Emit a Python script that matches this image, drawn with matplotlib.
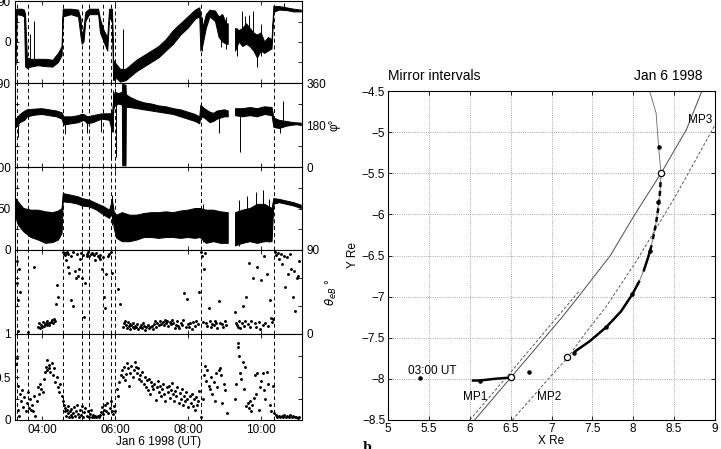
import numpy as np
import matplotlib
matplotlib.use('Agg')
import matplotlib.pyplot as plt

plt.rcParams['font.family'] = ['Liberation Sans', 'DejaVu Sans']
plt.rcParams['font.size'] = 8.5
plt.rcParams['axes.linewidth'] = 0.8
plt.rcParams['xtick.direction'] = 'in'
plt.rcParams['ytick.direction'] = 'in'

nan = np.nan

# ---- left: time series, time in hours UT on Jan 6 1998 ----
t_min, t_max = 3.26, 11.12
mirror_t = [3.32, 3.61, 4.58, 5.10, 5.30, 5.66, 5.88, 5.99, 8.35, 10.36]

# panel 1 (-90..90) envelope of the noisy trace
p1_t  = [3.26, 3.29, 3.32, 3.45, 3.52, 3.55, 3.60, 3.70, 3.90, 4.10, 4.30, 4.45, 4.55, 4.58, 4.80, 5.00, 5.07, 5.10,
         5.15, 5.20, 5.30, 5.55, 5.60, 5.70, 5.80, 5.85, 5.93, 5.96, 6.05, 6.15, 6.30, 6.45, 6.60, 6.80, 7.00, 7.20,
         7.40, 7.60, 7.80, 8.00, 8.20, 8.32, 8.35, 8.40, 8.50, 8.60, 8.75, 8.85, 8.95, 9.05, 9.10, 9.12, 9.28, 9.30,
         9.40, 9.50, 9.60, 9.70, 9.80, 9.90, 10.00, 10.10, 10.20, 10.30, 10.35, 10.50, 10.70, 10.90, 11.10]
p1_lo = [-45, -50, 60, 58, 55, -55, -58, -55, -52, -54, -55, -45, -30, 55, 60, 55, 10, -5,
         0, 45, 60, 60, 20, 0, -20, 50, 50, -85, -80, -88, -85, -75, -65, -55, -45, -35,
         -20, -5, 15, 30, 50, 55, -20, -10, 30, 55, 45, 10, 0, -5, -5, nan, nan, -20,
         0, -10, -5, -10, -20, -35, -20, -25, -20, -15, 65, 70, 69, 66, 66]
p1_hi = [-20, 70, 72, 72, 70, 60, -35, -38, -38, -38, -40, -25, -10, 72, 72, 70, 50, 10,
         30, 65, 72, 72, 50, 25, 10, 72, 72, -40, -50, -60, -60, -50, -40, -30, -20, -10,
         5, 25, 40, 55, 70, 75, 60, 30, 60, 70, 68, 55, 60, 40, 40, nan, nan, 30,
         25, 30, 40, 30, 20, 15, 20, 0, 10, 5, 78, 78, 75, 72, 70]
p1_spk_t  = [3.67, 3.77, 6.23, 8.37, 8.90, 9.04, 9.33, 9.48, 9.55, 9.67, 9.79, 9.88, 10.00, 10.62]
p1_spk_lo = [-50, -45, -80, -20, -10, -15, -30, 10, 0, 0, -10, -54, -30, 70]
p1_spk_hi = [18, 47, 28, 55, 62, 55, 30, 68, 58, 60, 68, 10, 40, 86]

# panel 2 (phi, 0..360)
p2_t  = [3.26, 3.30, 3.40, 3.53, 3.60, 3.80, 4.00, 4.20, 4.40, 4.55, 4.60, 4.80, 5.00, 5.08, 5.15, 5.25, 5.40, 5.55,
         5.65, 5.85, 5.93, 5.97, 6.00, 6.10, 6.20, 6.21, 6.30, 6.31, 6.40, 6.60, 6.80, 7.00, 7.20, 7.40, 7.60, 7.80,
         8.00, 8.20, 8.32, 8.35, 8.45, 8.60, 8.70, 8.80, 9.00, 9.10, 9.12, 9.28, 9.30, 9.50, 9.70, 9.90, 10.10, 10.30,
         10.35, 10.50, 10.70, 10.90, 11.10]
p2_lo = [165, 170, 190, 200, 215, 222, 225, 220, 215, 205, 180, 185, 190, 195, 200, 185, 190, 200,
         205, 200, 150, 250, 260, 270, 265, 5, 5, 255, 255, 250, 245, 240, 235, 230, 225, 215,
         205, 195, 185, 215, 210, 190, 195, 205, 215, 215, nan, nan, 220, 215, 220, 215, 225, 220,
         170, 165, 175, 180, 182]
p2_hi = [215, 205, 225, 240, 245, 248, 250, 245, 240, 232, 215, 215, 220, 225, 225, 215, 220, 225,
         228, 228, 230, 300, 320, 315, 320, 355, 350, 310, 300, 285, 275, 270, 262, 258, 250, 245,
         235, 225, 215, 265, 250, 235, 230, 240, 245, 240, nan, nan, 250, 250, 255, 250, 258, 255,
         210, 200, 195, 190, 188]
p2_spk_t  = [3.33, 4.62, 5.22, 5.62, 5.90, 5.95, 6.02, 8.85, 9.42, 10.52, 10.60]
p2_spk_lo = [130, 140, 144, 150, 30, 150, 45, 145, 65, 145, 185]
p2_spk_hi = [200, 200, 200, 210, 200, 330, 300, 210, 250, 190, 281]

# panel 3 (0..100)
p3_t  = [3.28, 3.35, 3.50, 3.70, 3.90, 4.10, 4.30, 4.45, 4.55, 4.58, 4.80, 5.00, 5.10, 5.30, 5.50, 5.70, 5.85, 5.93,
         5.98, 6.05, 6.20, 6.40, 6.60, 6.80, 7.00, 7.20, 7.40, 7.60, 7.80, 8.00, 8.20, 8.33, 8.50, 8.70, 8.90, 9.10,
         9.12, 9.28, 9.30, 9.50, 9.70, 9.90, 10.10, 10.30, 10.35, 10.50, 10.70, 10.90, 11.10]
p3_lo = [40, 30, 22, 15, 12, 8, 9, 12, 20, 58, 57, 55, 53, 52, 48, 42, 38, 45,
         25, 14, 10, 10, 12, 15, 15, 14, 15, 15, 14, 15, 14, 15, 8, 10, 8, 8,
         nan, nan, 5, 8, 10, 8, 10, 10, 55, 57, 55, 53, 50]
p3_hi = [62, 58, 50, 48, 48, 46, 45, 47, 50, 68, 66, 64, 62, 60, 56, 52, 48, 60,
         45, 42, 45, 42, 42, 44, 45, 45, 46, 45, 47, 48, 50, 50, 48, 48, 46, 45,
         nan, nan, 45, 48, 50, 55, 55, 50, 62, 61, 59, 57, 54]
p3_spk_t  = [5.92, 8.40, 9.40, 9.62, 9.85, 10.05, 10.22]
p3_spk_lo = [30, 10, 5, 10, 30, 30, 10]
p3_spk_hi = [66, 55, 60, 65, 70, 72, 62]

# panel 4: theta_eB (deg)
p4_t = [3.31, 3.32, 3.33, 3.35, 3.38, 3.40, 3.61, 3.79,
        3.88, 3.92, 3.95, 3.98, 4.01, 4.04, 4.06, 4.08, 4.10, 4.13, 4.15, 4.18, 4.20, 4.24, 4.27, 4.30, 4.33, 4.36, 4.38, 4.41, 4.45,
        4.58, 4.60, 4.62, 4.64, 4.66, 4.68, 4.70, 4.72, 4.75, 4.78, 4.80, 4.84, 4.86, 4.90, 4.93, 4.96, 4.99, 5.02, 5.04, 5.06,
        5.10, 5.12, 5.15, 5.18, 5.22, 5.24, 5.27, 5.30, 5.33, 5.36, 5.40, 5.43, 5.46, 5.48, 5.52, 5.55, 5.58, 5.60, 5.63, 5.66,
        5.70, 5.73, 5.76, 5.80, 5.84, 5.88, 5.92, 6.08, 6.13,
        6.22, 6.25, 6.28, 6.30, 6.32, 6.35, 6.38, 6.40, 6.42, 6.45, 6.48, 6.50, 6.53, 6.56, 6.58, 6.61, 6.64, 6.67, 6.70, 6.73,
        6.76, 6.80, 6.83, 6.86, 6.90, 6.93, 6.96, 7.00, 7.03, 7.07, 7.10, 7.13, 7.16, 7.20, 7.23, 7.26, 7.30, 7.33, 7.36, 7.40,
        7.43, 7.46, 7.50, 7.53, 7.56, 7.60, 7.63, 7.66, 7.70, 7.73, 7.76, 7.80, 7.84, 7.87, 7.90, 7.93, 7.96, 8.00, 8.03, 8.06,
        8.10, 8.14, 8.18, 8.22, 8.26, 8.30,
        8.36, 8.38, 8.40, 8.43, 8.46, 8.50, 8.53, 8.56, 8.60, 8.63, 8.66, 8.70, 8.73, 8.76, 8.80, 8.84, 8.88, 8.92, 8.96, 9.00, 9.04,
        9.28, 9.30, 9.33, 9.36, 9.40, 9.43, 9.47, 9.50, 9.52, 9.56, 9.60, 9.64, 9.68, 9.70, 9.73, 9.78, 9.82, 9.86, 9.90, 9.93,
        9.97, 10.00, 10.04, 10.08, 10.12, 10.16, 10.20, 10.24, 10.28, 10.31, 10.33,
        10.38, 10.42, 10.46, 10.50, 10.54, 10.58, 10.62, 10.66, 10.70, 10.74, 10.78, 10.82, 10.86, 10.90, 10.94, 10.98, 11.02, 11.05]
p4_v = [78, 55, 36, 3, 70, 45, 2, 72,
        8, 12, 6, 10, 8, 13, 9, 11, 12, 10, 14, 12, 10, 13, 15, 12, 16, 14, 32, 52, 40,
        88, 86, 87, 85, 79, 88, 72, 86, 65, 84, 36, 88, 30, 67, 60, 86, 62, 70, 80, 87,
        60, 85, 18, 55, 84, 86, 88, 84, 86, 87, 86, 85, 79, 87, 84, 82, 80, 85, 70, 82,
        40, 28, 64, 84, 86, 88, 65, 48, 32,
        8, 12, 14, 10, 6, 13, 9, 11, 5, 10, 8, 12, 6, 9, 7, 11, 5, 8, 10, 6,
        12, 9, 4, 8, 10, 6, 7, 9, 5, 11, 14, 8, 12, 10, 14, 11, 13, 10, 15, 12,
        14, 9, 13, 11, 15, 12, 6, 10, 14, 9, 6, 12, 10, 15, 44, 7, 38, 11, 8, 12,
        5, 13, 9, 14, 11, 45,
        88, 84, 13, 70, 87, 12, 9, 28, 14, 7, 11, 10, 14, 12, 6, 35, 12, 11, 7, 14, 10,
        24, 12, 10, 8, 14, 6, 12, 30, 9, 14, 40, 11, 76, 7, 14, 60, 12, 8, 72, 13,
        5, 58, 10, 84, 12, 64, 9, 36, 17, 13, 16,
        88, 85, 87, 80, 86, 75, 84, 50, 82, 64, 86, 70, 40, 67, 25, 60, 62, 78]

# panel 5 (0..1)
p5_t = [3.29, 3.31, 3.33, 3.35, 3.37, 3.40, 3.43, 3.46, 3.49, 3.52, 3.55, 3.58, 3.61, 3.64, 3.67, 3.70, 3.73, 3.76, 3.79,
        3.82, 3.85, 3.88, 3.92, 3.95, 3.98, 4.02, 4.05, 4.08, 4.10, 4.13, 4.15, 4.18, 4.20, 4.23, 4.26, 4.30, 4.33, 4.36,
        4.40, 4.43, 4.47, 4.50, 4.55,
        4.58, 4.60, 4.62, 4.64, 4.66, 4.68, 4.70, 4.72, 4.74, 4.76, 4.78, 4.80, 4.83, 4.86, 4.88, 4.90, 4.93, 4.96, 4.98,
        5.01, 5.04, 5.07, 5.10, 5.13, 5.16, 5.19, 5.22, 5.25, 5.28, 5.31, 5.34, 5.37, 5.40, 5.43, 5.46, 5.49, 5.52, 5.55,
        5.58, 5.61, 5.64, 5.67, 5.70, 5.73, 5.76, 5.79, 5.82, 5.85, 5.88, 5.91, 5.94, 5.97, 6.00,
        6.05, 6.08, 6.12, 6.15, 6.18, 6.21, 6.24, 6.27, 6.30, 6.33, 6.36, 6.39, 6.42, 6.45, 6.48, 6.51, 6.54, 6.57, 6.60,
        6.63, 6.66, 6.69, 6.72, 6.75, 6.78, 6.81, 6.84, 6.87, 6.90, 6.93, 6.96, 6.99, 7.02, 7.05, 7.08, 7.11, 7.14, 7.17,
        7.20, 7.23, 7.26, 7.29, 7.32, 7.35, 7.38, 7.41, 7.44, 7.47, 7.50, 7.53, 7.56, 7.59, 7.62, 7.65, 7.68, 7.71, 7.74,
        7.77, 7.80, 7.83, 7.86, 7.89, 7.92, 7.95, 7.98, 8.01, 8.04, 8.07, 8.10, 8.13, 8.16, 8.19, 8.22, 8.25, 8.28, 8.31,
        8.36, 8.40, 8.44, 8.47, 8.50, 8.53, 8.56, 8.60, 8.63, 8.66, 8.70, 8.73, 8.76, 8.80, 8.84, 8.87, 8.90, 8.94, 8.98,
        9.02, 9.06,
        9.28, 9.32, 9.36, 9.38, 9.40, 9.43, 9.46, 9.50, 9.53, 9.56, 9.60, 9.63, 9.66, 9.70, 9.73, 9.76, 9.80, 9.83, 9.86,
        9.90, 9.93, 9.96, 10.00, 10.04, 10.08, 10.12, 10.16, 10.20, 10.24, 10.28, 10.32,
        10.36, 10.40, 10.44, 10.48, 10.52, 10.56, 10.60, 10.64, 10.68, 10.72, 10.76, 10.80, 10.84, 10.88, 10.92, 10.96,
        11.00, 11.04]
p5_v = [0.65, 0.72, 0.40, 0.12, 0.05, 0.30, 0.22, 0.35, 0.15, 0.27, 0.10, 0.20, 0.32, 0.14, 0.25, 0.12, 0.18, 0.10, 0.28,
        0.05, 0.22, 0.38, 0.30, 0.42, 0.36, 0.33, 0.48, 0.56, 0.62, 0.58, 0.70, 0.64, 0.60, 0.56, 0.66, 0.52, 0.60, 0.44,
        0.50, 0.38, 0.32, 0.42, 0.28,
        0.22, 0.18, 0.14, 0.10, 0.05, 0.12, 0.08, 0.16, 0.04, 0.10, 0.06, 0.13, 0.03, 0.08, 0.15, 0.05, 0.10, 0.18, 0.07,
        0.03, 0.12, 0.06, 0.16, 0.04, 0.09, 0.14, 0.05, 0.10, 0.03, 0.07, 0.12, 0.04, 0.06, 0.04, 0.05, 0.03, 0.05, 0.04,
        0.06, 0.09, 0.15, 0.07, 0.12, 0.18, 0.10, 0.20, 0.08, 0.14, 0.22, 0.11, 0.07, 0.16, 0.10,
        0.36, 0.28, 0.44, 0.52, 0.58, 0.50, 0.62, 0.46, 0.54, 0.66, 0.60, 0.40, 0.55, 0.63, 0.50, 0.58, 0.68, 0.62, 0.55,
        0.60, 0.48, 0.52, 0.45, 0.56, 0.42, 0.50, 0.38, 0.46, 0.35, 0.48, 0.30, 0.44, 0.40, 0.36, 0.42, 0.23, 0.38, 0.45,
        0.32, 0.40, 0.28, 0.36, 0.42, 0.30, 0.22, 0.38, 0.33, 0.40, 0.26, 0.35, 0.43, 0.30, 0.22, 0.34, 0.28, 0.38, 0.20,
        0.31, 0.25, 0.36, 0.18, 0.28, 0.22, 0.33, 0.25, 0.15, 0.28, 0.20, 0.30, 0.16, 0.24, 0.12, 0.27, 0.18, 0.22, 0.34,
        0.04, 0.25, 0.52, 0.63, 0.45, 0.58, 0.40, 0.36, 0.50, 0.30, 0.44, 0.22, 0.55, 0.38, 0.58, 0.60, 0.52, 0.20, 0.42,
        0.35, 0.08,
        0.24, 0.42, 0.90, 0.85, 0.75, 0.55, 0.48, 0.68, 0.36, 0.62, 0.16, 0.20, 0.14, 0.22, 0.10, 0.18, 0.26, 0.52, 0.30,
        0.55, 0.12, 0.38, 0.45, 0.55, 0.35, 0.25, 0.56, 0.42, 0.18, 0.10, 0.40,
        0.08, 0.06, 0.04, 0.05, 0.03, 0.05, 0.04, 0.06, 0.03, 0.05, 0.04, 0.06, 0.03, 0.05, 0.04, 0.03,
        0.02, 0.03]

# ---- right: orbit and magnetopause models (X, Y in Re) ----
mp1_x = [6.00, 6.50, 7.00, 7.35]
mp1_y = [-8.50, -7.92, -7.33, -6.92]
mp2_x = [6.52, 6.98, 7.19, 7.41, 7.67, 8.05, 8.51, 8.98, 9.10]
mp2_y = [-8.50, -7.98, -7.75, -7.45, -7.12, -6.55, -5.79, -4.95, -4.70]
mp3_x = [6.06, 6.60, 7.13, 7.33, 7.72, 8.02, 8.34, 8.65, 8.84]
mp3_y = [-8.50, -7.87, -7.25, -7.00, -6.50, -6.00, -5.50, -4.97, -4.50]

orbit_x = [7.29, 7.47, 7.67, 7.85, 7.99, 8.07, 8.13, 8.18, 8.22, 8.28, 8.33, 8.34, 8.31, 8.28, 8.20, 8.10]
orbit_y = [-7.665, -7.54, -7.37, -7.18, -6.97, -6.82, -6.68, -6.53, -6.39, -6.10, -5.70, -5.50, -5.18, -4.77, -4.50, -4.30]
segA_x, segA_y = [6.04, 6.12, 6.30, 6.48], [-8.02, -8.02, -8.00, -7.985]
segB_x, segB_y = [7.29, 7.47, 7.67, 7.85, 7.99, 8.07], [-7.665, -7.54, -7.37, -7.18, -6.97, -6.82]
segC_x, segC_y = [8.13, 8.18, 8.22], [-6.68, -6.53, -6.39]
segD_x, segD_y = [8.24, 8.28, 8.31, 8.33, 8.335], [-6.30, -6.10, -5.90, -5.70, -5.56]
hour_x = [5.39, 6.12, 6.73, 7.27, 7.67, 7.99, 8.21, 8.30, 8.31]
hour_y = [-7.99, -8.02, -7.92, -7.69, -7.37, -6.97, -6.44, -5.85, -5.18]
mp_cross_x = [6.50, 7.19, 8.34]
mp_cross_y = [-7.98, -7.74, -5.50]

W, H = 721, 449
fig = plt.figure(figsize=(W / 100, H / 100), dpi=100)


def px_axes(l, t, r, b):
    return fig.add_axes([l / W, 1 - b / H, (r - l) / W, (b - t) / H])


edges = [1, 83, 167, 250, 334, 420]
axs = [px_axes(15, edges[i], 302, edges[i + 1]) for i in range(5)]

bands = [(p1_t, p1_lo, p1_hi, p1_spk_t, p1_spk_lo, p1_spk_hi),
         (p2_t, p2_lo, p2_hi, p2_spk_t, p2_spk_lo, p2_spk_hi),
         (p3_t, p3_lo, p3_hi, p3_spk_t, p3_spk_lo, p3_spk_hi)]
for ax, (t, lo, hi, st, slo, shi) in zip(axs[:3], bands):
    ax.fill_between(t, lo, hi, color='k', lw=0.7)
    ax.vlines(st, slo, shi, color='k', lw=0.7)

axs[3].plot(p4_t, p4_v, 'k.', ms=2.2)
axs[4].plot(p5_t, p5_v, 'k.', ms=2.2)

ylims = [(-90, 90), (0, 360), (0, 100), (0, 90), (0, 1)]
yticks = [[-90, -45, 0, 45, 90], [0, 90, 180, 270, 360], [0, 25, 50, 75, 100], [0, 30, 60, 90], [0, 0.25, 0.5, 0.75, 1]]
ylabs = [['-90', '', '0', '', '90'], ['0', '', '180', '', '360'], ['0', '', '50', '', '100'], ['0', '', '', '90'],
         ['0', '', '0.5', '', '1']]
right_side = [False, True, False, True, False]

for i, ax in enumerate(axs):
    ax.set_xlim(t_min, t_max)
    ax.set_ylim(*ylims[i])
    for t in mirror_t:
        ax.axvline(t, color='k', ls=(0, (4, 3)), lw=0.7)
    ax.set_xticks([4, 6, 8, 10])
    ax.set_yticks(yticks[i])
    ax.set_yticklabels(ylabs[i])
    ax.tick_params(top=True, right=True, length=3, width=0.6, pad=3)
    if right_side[i]:
        ax.tick_params(labelleft=False, labelright=True)
    if i < 4:
        ax.tick_params(labelbottom=False)
    else:
        ax.set_xticklabels(['04:00', '06:00', '08:00', '10:00'])
        ax.set_xlabel('Jan 6 1998 (UT)', labelpad=0)

axs[1].yaxis.set_label_position('right')
axs[1].set_ylabel('φ°', labelpad=2)
axs[3].yaxis.set_label_position('right')
axs[3].set_ylabel(r'$\theta_{eB}$ °', labelpad=3)

# ---- right panel ----
axr = px_axes(388, 91, 715, 420)
axr.plot(mp1_x, mp1_y, color='0.35', lw=0.7, ls=(0, (3, 2)))
axr.plot(mp2_x, mp2_y, color='0.35', lw=0.7, ls=(0, (3, 2)))
axr.plot(mp3_x, mp3_y, color='0.3', lw=0.7)
axr.plot(orbit_x, orbit_y, color='0.4', lw=0.6)
axr.plot(segA_x, segA_y, 'k', lw=1.8)
axr.plot(segB_x, segB_y, 'k', lw=1.8)
axr.plot(segC_x, segC_y, 'k', lw=1.8)
axr.plot(segD_x, segD_y, 'k', lw=1.8, ls=(0, (2, 1.5)))
axr.plot(hour_x, hour_y, 'k.', ms=4.5, ls='none')
axr.plot(mp_cross_x, mp_cross_y, 'o', ms=4.5, mfc='white', mec='k', mew=0.9, ls='none')

axr.text(5.24, -7.9, '03:00 UT', ha='left', va='center')
axr.text(5.92, -8.22, 'MP1', ha='left', va='center')
axr.text(6.82, -8.22, 'MP2', ha='left', va='center')
axr.text(8.67, -4.85, 'MP3', ha='left', va='center')

axr.set_xlim(5, 9)
axr.set_ylim(-8.5, -4.5)
xt = np.arange(5, 9.01, 0.5)
yt = np.arange(-8.5, -4.49, 0.5)
axr.set_xticks(xt)
axr.set_xticklabels([f'{v:g}' for v in xt])
axr.set_yticks(yt)
axr.set_yticklabels([f'{v:g}'.replace('-', '\u2212') for v in yt])
axr.tick_params(top=True, right=True, length=3, width=0.6, pad=2)
axr.grid(True, ls=':', color='0.55', lw=0.6)
axr.set_xlabel('X Re', labelpad=0)
axr.set_ylabel('Y Re', labelpad=2)
axr.text(0.0, 1.025, 'Mirror intervals', transform=axr.transAxes, ha='left', va='bottom', fontsize=10)
axr.text(0.963, 1.025, 'Jan 6 1998', transform=axr.transAxes, ha='right', va='bottom', fontsize=10)

fig.text(363 / W, 1 - 441 / H, 'b', fontweight='bold', family='serif', va='top', fontsize=9)

fig.savefig('out.png', dpi=100)
